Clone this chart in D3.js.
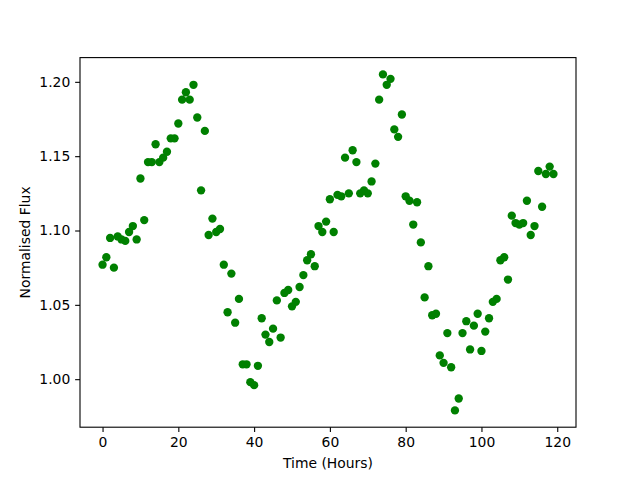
<!DOCTYPE html>
<html>
<head>
<meta charset="utf-8">
<script src="https://cdn.jsdelivr.net/npm/d3@7"></script>
<style>
  html, body { margin: 0; padding: 0; background: #fff; }
  svg { display: block; }
  text { font-family: "DejaVu Sans", sans-serif; fill: #000; }
</style>
</head>
<body>
<script>
// ---- data ----
const hours = d3.range(0, 120);
const flux = [
  1.077, 1.082, 1.095, 1.075, 1.096, 1.094, 1.093, 1.099, 1.103, 1.094,
  1.135, 1.107, 1.146, 1.146, 1.158, 1.146, 1.149, 1.153, 1.162, 1.162,
  1.172, 1.188, 1.193, 1.188, 1.198, 1.176, 1.127, 1.167, 1.097, 1.108,
  1.099, 1.101, 1.077, 1.045, 1.071, 1.038, 1.054, 1.010, 1.010, 0.998,
  0.996, 1.009, 1.041, 1.030, 1.025, 1.034, 1.053, 1.028, 1.058, 1.060,
  1.049, 1.052, 1.062, 1.070, 1.080, 1.084, 1.076, 1.103, 1.099, 1.106,
  1.121, 1.099, 1.124, 1.123, 1.149, 1.125, 1.154, 1.146, 1.125, 1.127,
  1.125, 1.133, 1.145, 1.188, 1.205, 1.198, 1.202, 1.168, 1.163, 1.178,
  1.123, 1.120, 1.104, 1.119, 1.092, 1.055, 1.076, 1.043, 1.044, 1.016,
  1.011, 1.031, 1.008, 0.979, 0.987, 1.031, 1.039, 1.020, 1.036, 1.044,
  1.019, 1.032, 1.041, 1.052, 1.054, 1.080, 1.082, 1.067, 1.110, 1.105,
  1.104, 1.105, 1.120, 1.097, 1.103, 1.140, 1.116, 1.138, 1.143, 1.138
];
const xTicks = [0, 20, 40, 60, 80, 100, 120];
const yTicks = [1.00, 1.05, 1.10, 1.15, 1.20];
const xLabel = "Time (Hours)";
const yLabel = "Normalised Flux";

// ---- layout ----
const W = 640, H = 480;
const L = 80, R = 576, T = 57.6, B = 427.2;

function padded(ext) {
  const r = ext[1] - ext[0];
  return [ext[0] - 0.05 * r, ext[1] + 0.05 * r];
}

const x = d3.scaleLinear().domain(padded(d3.extent(hours))).range([L, R]);
const y = d3.scaleLinear().domain(padded(d3.extent(flux))).range([B, T]);

const svg = d3.select("body").append("svg")
  .attr("width", W).attr("height", H);

svg.append("rect").attr("width", W).attr("height", H).attr("fill", "#fff");

// points
svg.append("g").selectAll("circle")
  .data(hours.map((h, i) => [h, flux[i]]))
  .join("circle")
  .attr("cx", d => x(d[0]))
  .attr("cy", d => y(d[1]))
  .attr("r", 4.17)
  .attr("fill", "#008000");

// axes
const tickLen = 4.86;
const xAxis = d3.axisBottom(x).tickValues(xTicks).tickFormat(d3.format("d"))
  .tickSize(tickLen).tickPadding(4.86);
const yAxis = d3.axisLeft(y).tickValues(yTicks).tickFormat(d3.format(".2f"))
  .tickSize(tickLen).tickPadding(4.86);

const gx = svg.append("g").attr("transform", `translate(0,${B})`).call(xAxis);
const gy = svg.append("g").attr("transform", `translate(${L},0)`).call(yAxis);

[gx, gy].forEach(g => {
  g.select(".domain").remove();
  g.selectAll(".tick line").attr("stroke", "#000").attr("stroke-width", 1.1);
  g.selectAll(".tick text")
    .attr("font-family", "DejaVu Sans, sans-serif")
    .attr("font-size", 13.9)
    .attr("fill", "#000");
});
gx.selectAll(".tick text").attr("dy", "0.71em");

// frame (spines)
svg.append("rect")
  .attr("x", L).attr("y", T)
  .attr("width", R - L).attr("height", B - T)
  .attr("fill", "none").attr("stroke", "#000").attr("stroke-width", 1.1);

// labels
svg.append("text")
  .attr("x", (L + R) / 2).attr("y", 468)
  .attr("text-anchor", "middle")
  .attr("font-size", 13.9)
  .text(xLabel);

svg.append("text")
  .attr("transform", `translate(30,${(T + B) / 2}) rotate(-90)`)
  .attr("text-anchor", "middle")
  .attr("font-size", 13.9)
  .text(yLabel);
</script>
</body>
</html>
